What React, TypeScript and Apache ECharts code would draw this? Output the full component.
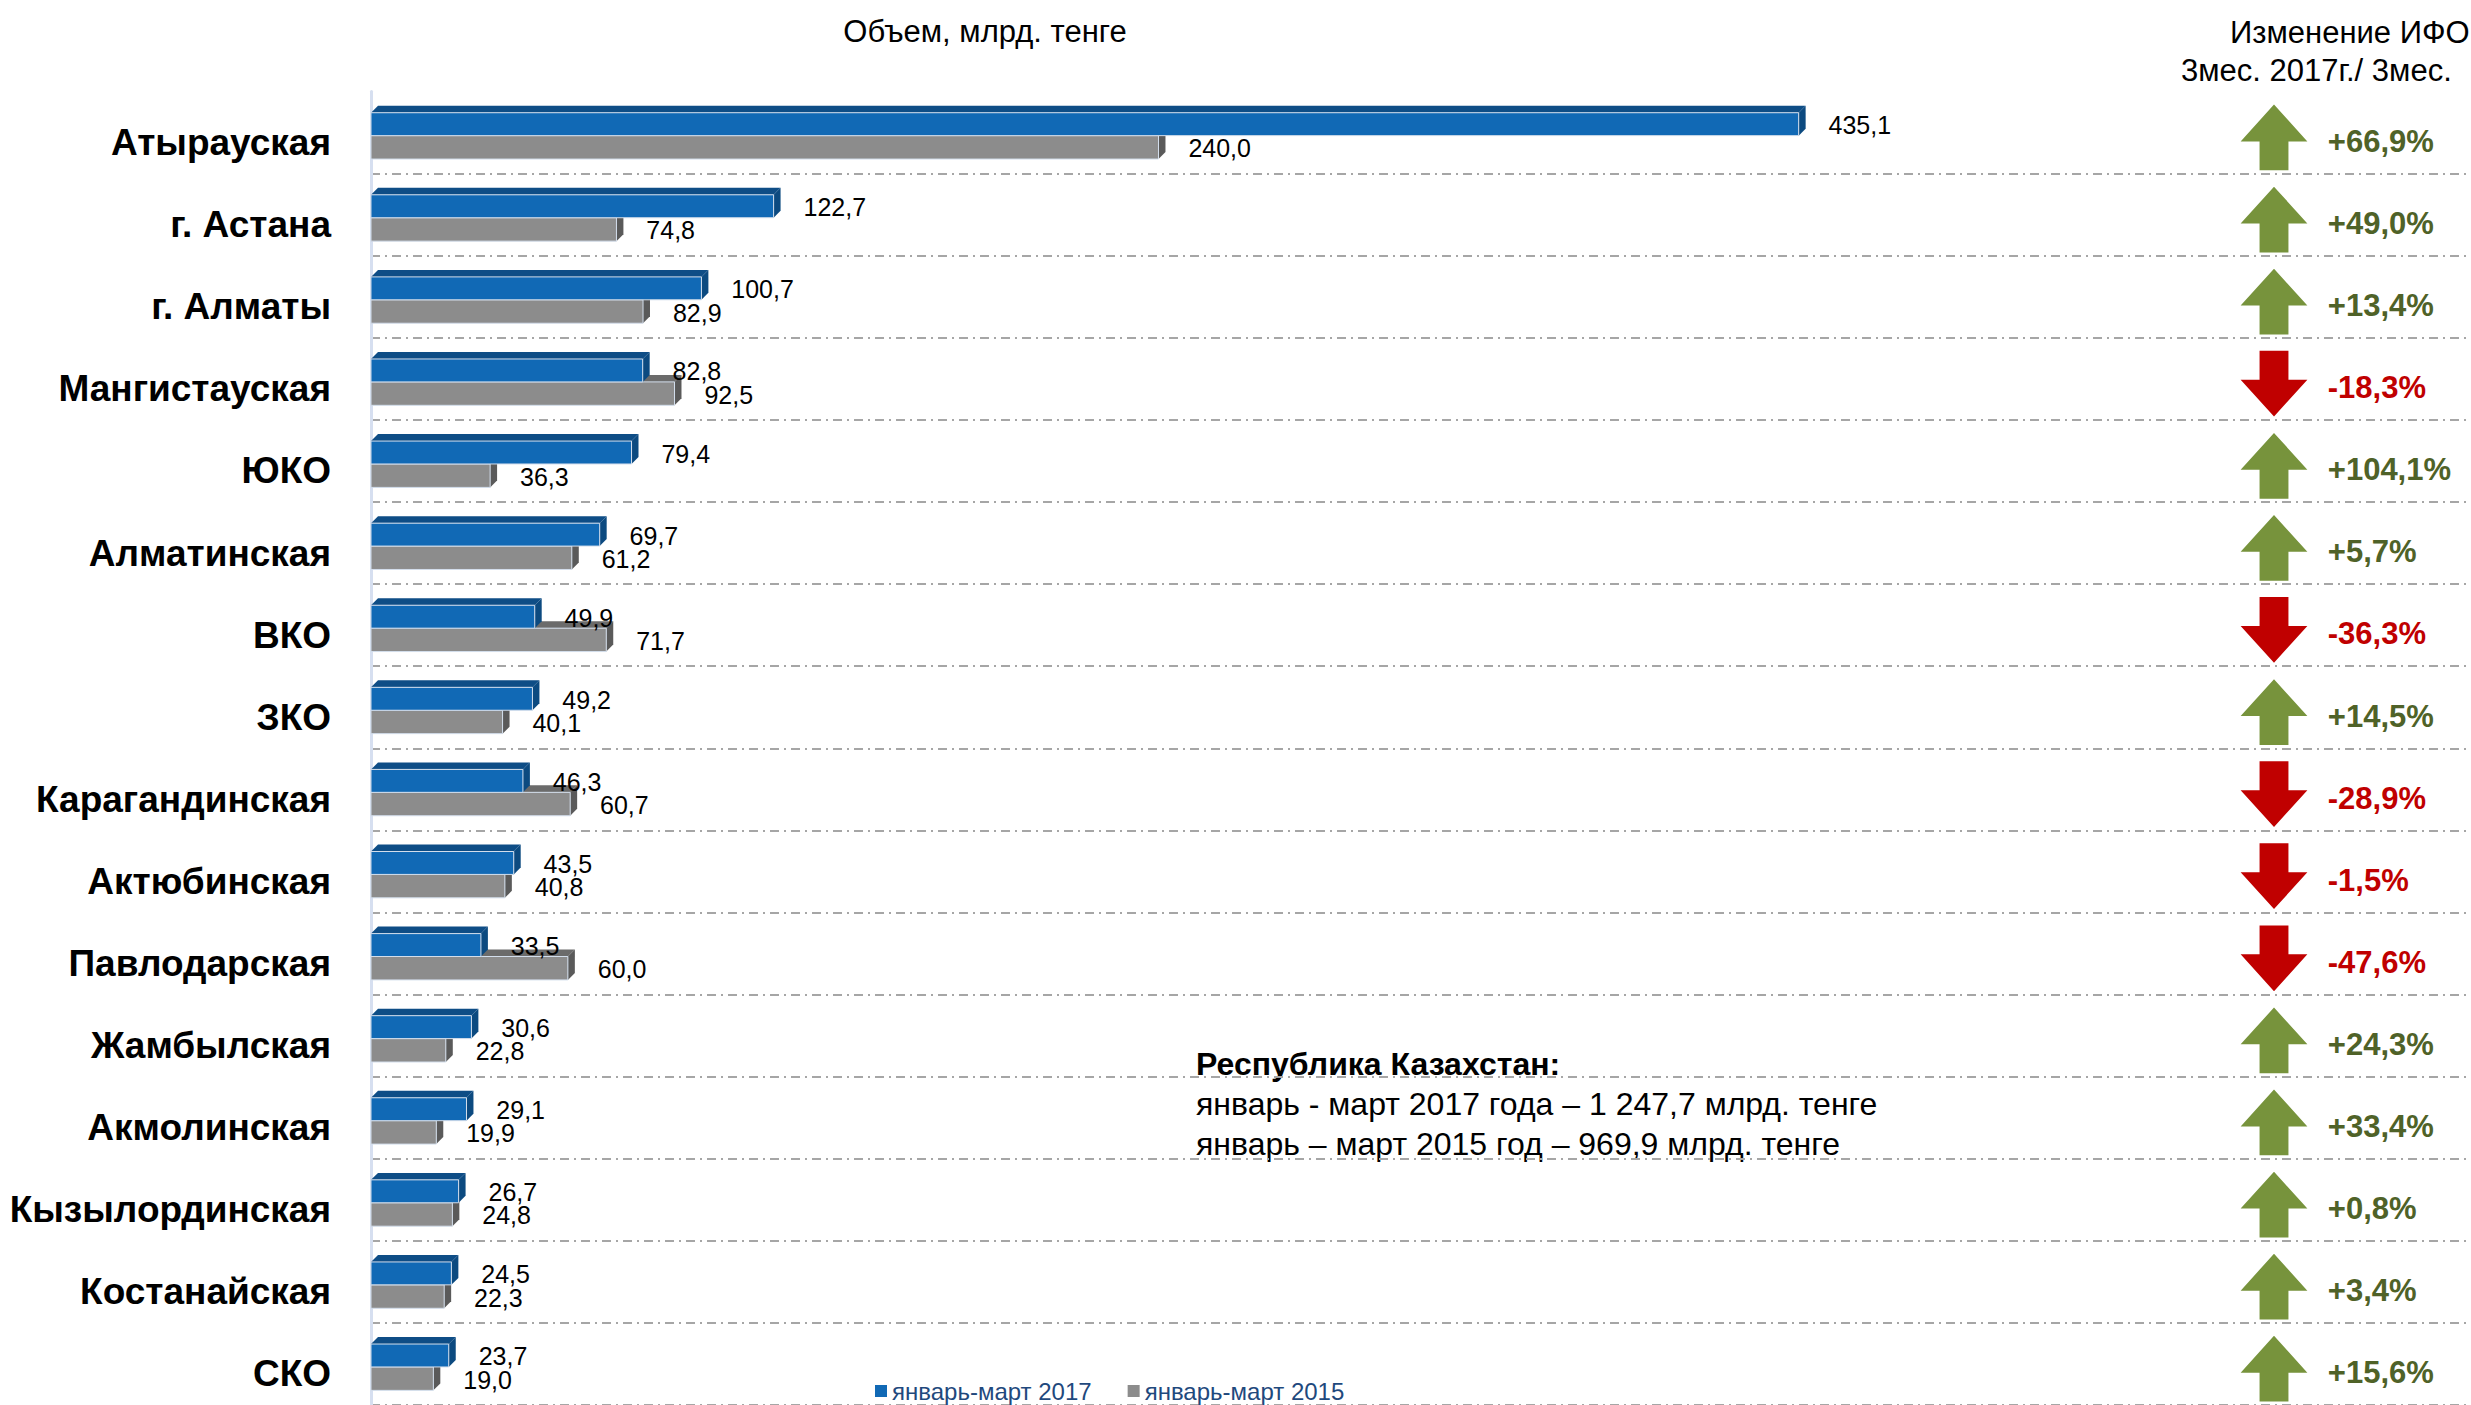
import React, { useEffect, useRef } from "react";
import * as echarts from "echarts";

const regions = [
  "Атырауская", "г. Астана", "г. Алматы", "Мангистауская", "ЮКО", "Алматинская",
  "ВКО", "ЗКО", "Карагандинская", "Актюбинская", "Павлодарская", "Жамбылская",
  "Акмолинская", "Кызылординская", "Костанайская", "СКО",
];
const values2017 = [435.1, 122.7, 100.7, 82.8, 79.4, 69.7, 49.9, 49.2, 46.3, 43.5, 33.5, 30.6, 29.1, 26.7, 24.5, 23.7];
const values2015 = [240.0, 74.8, 82.9, 92.5, 36.3, 61.2, 71.7, 40.1, 60.7, 40.8, 60.0, 22.8, 19.9, 24.8, 22.3, 19.0];
const ifoChange = [66.9, 49.0, 13.4, -18.3, 104.1, 5.7, -36.3, 14.5, -28.9, -1.5, -47.6, 24.3, 33.4, 0.8, 3.4, 15.6];

const seriesNames = ["январь-март 2017", "январь-март 2015"];
const chartTitle = "Объем, млрд. тенге";
const changeTitle1 = "Изменение ИФО";
const changeTitle2 = "3мес. 2017г./ 3мес.";
const noteTitle = "Республика Казахстан:";
const noteLine1 = "январь - март 2017 года – 1 247,7 млрд. тенге";
const noteLine2 = "январь – март 2015 год – 969,9 млрд. тенге";

const FONT = "'Liberation Sans', Arial, Helvetica, sans-serif";

const fmt = (v: number) => v.toFixed(1).replace(".", ",");

function barRenderer(kind: "top" | "bottom", colors: { front: string; top: string; side: string }) {
  return (params: any, api: any) => {
    const v = api.value(0);
    const idx = api.value(1);
    const p0 = api.coord([0, idx]);
    const p1 = api.coord([v, idx]);
    const band = api.size([0, 1])[1];
    const u = band / 82.4;
    const c = p0[1];
    const x0 = p0[0];
    const x1 = p1[0];
    const d = 7 * u;
    let yTop: number, yBot: number;
    if (kind === "top") {
      yTop = c - 20 * u;
      yBot = c + 3 * u;
    } else {
      yTop = c + 3 * u;
      yBot = c + 26.5 * u;
    }
    return {
      type: "group",
      children: [
        {
          type: "polygon",
          shape: { points: [[x0, yTop], [x0 + d, yTop - d], [x1 + d, yTop - d], [x1, yTop]] },
          style: { fill: colors.top },
        },
        {
          type: "polygon",
          shape: { points: [[x1, yTop], [x1 + d, yTop - d], [x1 + d, yBot - d], [x1, yBot]] },
          style: { fill: colors.side },
        },
        {
          type: "rect",
          shape: { x: x0, y: yTop, width: x1 - x0, height: yBot - yTop },
          style: { fill: colors.front, stroke: "#d3deec", lineWidth: 1 },
        },
        {
          type: "text",
          x: x1 + 30 * u,
          y: (yTop + yBot) / 2 + 1,
          style: {
            text: fmt(v),
            fill: "#000",
            fontSize: 25,
            fontFamily: FONT,
            align: "left",
            verticalAlign: "middle",
            textAlign: "left",
            textVerticalAlign: "middle",
          },
        },
      ],
    };
  };
}

function arrowRenderer(params: any, api: any) {
  const idx = api.value(1);
  const pct = api.value(2);
  const p = api.coord([0, idx]);
  const band = api.size([0, 1])[1];
  const u = band / 82.4;
  const cx = api.getWidth() - 197;
  const top = p[1] - band / 2 + 13 * u;
  const h = 66 * u;
  const head = 37 * u;
  const hw = 33.5 * u;
  const sw = 14.5 * u;
  const up = pct >= 0;
  let pts: number[][];
  if (up) {
    pts = [
      [cx, top], [cx + hw, top + head], [cx + sw, top + head], [cx + sw, top + h],
      [cx - sw, top + h], [cx - sw, top + head], [cx - hw, top + head],
    ];
  } else {
    const hs = h - head;
    pts = [
      [cx - sw, top], [cx + sw, top], [cx + sw, top + hs], [cx + hw, top + hs],
      [cx, top + h], [cx - hw, top + hs], [cx - sw, top + hs],
    ];
  }
  const text = (pct > 0 ? "+" : "") + fmt(pct) + "%";
  return {
    type: "group",
    children: [
      { type: "polygon", shape: { points: pts }, style: { fill: up ? "#77933c" : "#c00000" } },
      {
        type: "text",
        x: cx + 54 * u,
        y: top + h / 2 + 4 * u,
        style: {
          text,
          fill: up ? "#4f6228" : "#c00000",
          fontSize: 31,
          fontWeight: "bold",
          fontFamily: FONT,
          align: "left",
          verticalAlign: "middle",
          textAlign: "left",
          textVerticalAlign: "middle",
        },
      },
    ],
  };
}

export default function App() {
  const ref = useRef<HTMLDivElement>(null);
  useEffect(() => {
    document.body.style.margin = "0";
    if (!ref.current) return;
    const chart = echarts.init(ref.current, undefined, { renderer: "svg" });
    const blue = { front: "#1169b5", top: "#0e4d86", side: "#0c4a80" };
    const gray = { front: "#8c8c8c", top: "#6b6b6b", side: "#5a5a5a" };
    const txt = (x: number, y: number, text: string, size: number, align: string, bold = false) => ({
      type: "text", x, y,
      style: {
        text, fontSize: size, fontWeight: bold ? "bold" : "normal", fontFamily: FONT, fill: "#000",
        align, verticalAlign: "middle", textAlign: align, textVerticalAlign: "middle",
      },
    });
    const option: any = {
      animation: false,
      backgroundColor: "#ffffff",
      grid: { left: 371, right: 0, top: 91.6, height: 1318.4, containLabel: false },
      xAxis: { type: "value", min: 0, max: 640, show: false },
      yAxis: {
        type: "category",
        data: regions,
        inverse: true,
        offset: 8,
        axisLine: { show: true, lineStyle: { color: "#d6dff0", width: 3 } },
        axisTick: { show: false },
        axisLabel: {
          margin: 32,
          fontSize: 37,
          fontWeight: "bold",
          color: "#000",
          fontFamily: FONT,
          verticalAlign: "top",
          lineHeight: 20,
        },
        splitLine: {
          show: true,
          showMinLine: false,
          lineStyle: { color: "#a6a6a6", width: 2, type: [9, 5, 2, 5] },
        },
      },
      legend: {
        data: seriesNames,
        left: 875,
        top: 1379,
        icon: "rect",
        itemWidth: 12,
        itemHeight: 12,
        itemGap: 36,
        padding: 0,
        textStyle: { fontSize: 24, color: "#1f497d", fontFamily: FONT },
      },
      graphic: [
        txt(985, 31, chartTitle, 31, "center"),
        txt(2230, 32, changeTitle1, 31, "left"),
        txt(2181, 70, changeTitle2, 31, "left"),
        txt(1196, 1064, noteTitle, 32, "left", true),
        txt(1196, 1104, noteLine1, 32, "left"),
        txt(1196, 1144, noteLine2, 32, "left"),
      ],
      series: [
        {
          name: seriesNames[1],
          type: "custom",
          coordinateSystem: "cartesian2d",
          itemStyle: { color: gray.front },
          encode: { x: 0, y: 1 },
          data: values2015.map((v, i) => [v, i]),
          renderItem: barRenderer("bottom", gray),
          clip: false,
        },
        {
          name: seriesNames[0],
          type: "custom",
          coordinateSystem: "cartesian2d",
          itemStyle: { color: blue.front },
          encode: { x: 0, y: 1 },
          data: values2017.map((v, i) => [v, i]),
          renderItem: barRenderer("top", blue),
          clip: false,
        },
        {
          name: "ИФО",
          type: "custom",
          coordinateSystem: "cartesian2d",
          encode: { x: 0, y: 1 },
          data: ifoChange.map((v, i) => [0, i, v]),
          renderItem: arrowRenderer,
          clip: false,
        },
      ],
    };
    chart.setOption(option);
    return () => chart.dispose();
  }, []);
  return <div ref={ref} style={{ width: 2471, height: 1405 }} />;
}
